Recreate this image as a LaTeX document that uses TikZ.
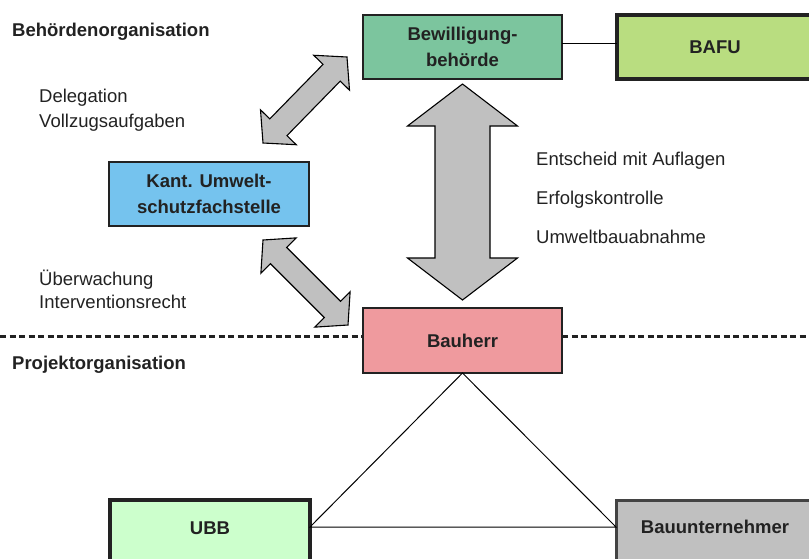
\documentclass[tikz,border=0pt]{standalone}
\usepackage{fontspec}
\setmainfont{Liberation Sans}
\usetikzlibrary{calc}

\definecolor{bewgreen}{HTML}{7CC59E}
\definecolor{bafugreen}{HTML}{B9DD80}
\definecolor{kantblue}{HTML}{75C3EE}
\definecolor{bauherrpink}{HTML}{EF9A9E}
\definecolor{ubbgreen}{HTML}{CCFFCC}
\definecolor{bugray}{HTML}{C0C0C0}
\definecolor{arrowgray}{HTML}{C0C0C0}
\definecolor{ink}{HTML}{222222}

\tikzset{
  orgbox/.style={draw=ink, line width=1.2pt, minimum width=199pt, minimum height=64pt,
    inner sep=0pt, outer sep=0pt, align=center,
    font=\fontsize{18.5}{25.5}\selectfont\bfseries, text=ink},
  heavybox/.style={orgbox, line width=4pt},
  boxlabel/.style={font=\fontsize{18.5}{25.5}\selectfont\bfseries, text=ink, inner sep=0pt},
  heading/.style={boxlabel, anchor=base west},
  note/.style={font=\fontsize{18.5}{23}\selectfont, text=ink, inner sep=0pt, anchor=base west},
  bigarrow/.style={draw=black, line width=1.1pt, fill=arrowgray, line join=miter},
  divider/.style={draw=ink, line width=3pt, dash pattern=on 6pt off 3.5pt},
  link/.style={draw=black, line width=1pt},
}

% block double arrow from #1 to #2: shaft half width #3, head half width #4, head length #5
\newcommand\orgarrow[5]{%
  \draw[bigarrow] (#1)
    -- ($(#1)!#5!(#2)!#4!90:(#2)$)
    -- ($(#1)!#5!(#2)!#3!90:(#2)$)
    -- ($(#2)!#5!(#1)!#3!-90:(#1)$)
    -- ($(#2)!#5!(#1)!#4!-90:(#1)$)
    -- (#2)
    -- ($(#2)!#5!(#1)!#4!90:(#1)$)
    -- ($(#2)!#5!(#1)!#3!90:(#1)$)
    -- ($(#1)!#5!(#2)!#3!-90:(#2)$)
    -- ($(#1)!#5!(#2)!#4!-90:(#2)$)
    -- cycle;}

\begin{document}
\begin{tikzpicture}[x=1pt,y=-1pt]
\useasboundingbox (0,0) rectangle (809,558);

% lower organisation boxes (they run past the page edge)
\node[heavybox, fill=ubbgreen, anchor=north west, minimum width=200pt, minimum height=80pt] (ubb) at (110,500) {};
\node[orgbox, line width=3pt, draw=ink!85, fill=bugray, anchor=north west, minimum width=198pt, minimum height=80pt] (bu) at (616,500) {};

% triangle linking Bauherr, UBB and Bauunternehmer
\coordinate (tri) at (462,527);
\node[orgbox, fill=bauherrpink, minimum height=65pt] (bauherr) at (462.5,340.5) {Bauherr};
\draw[link] (bauherr.south) -- (tri -| ubb.east) -- (tri -| bu.west) -- cycle;

\node[boxlabel] (ubbtext) at ([yshift=-28pt]ubb.north) {UBB};
\node[boxlabel] (butext) at ([yshift=-27pt]bu.north) {Bauunternehmer};

% authority boxes
\node[orgbox, fill=bewgreen] (bew) at (462.5,47) {Bewilligung-\\behörde};
\node[heavybox, fill=bafugreen, anchor=north west, minimum width=196pt] (bafu) at (617,15) {BAFU};
\node[orgbox, fill=kantblue, minimum width=200pt] (kant) at (209,194) {Kant. Umwelt-\\schutzfachstelle};
\draw[link] ([yshift=4pt]bew.east) -- ([yshift=4pt]bafu.west);

% divider between authority and project organisation
\coordinate (dl) at (0,336);
\coordinate (dr) at (809,336);
\draw[divider] (dl) -- (dl -| bauherr.west);
\draw[divider] (dr -| bauherr.east) -- (dr);

% block arrows
\coordinate (dA1) at (263,143);
\coordinate (dB1) at (347,57);
\orgarrow{dA1}{dB1}{12pt}{25pt}{22pt}
\coordinate (dA2) at (263,240);
\coordinate (dB2) at (348,325);
\orgarrow{dA2}{dB2}{11.5pt}{25pt}{22pt}
\coordinate (vA) at ([yshift=-5pt]bew.south);
\coordinate (vB) at ([yshift=8pt]bauherr.north);
\orgarrow{vA}{vB}{27.5pt}{55pt}{42pt}

% headings and notes
\node[heading] (hb) at (12,36) {Behördenorganisation};
\node[heading] (hp) at (12,369) {Projektorganisation};
\node[note] (n1) at (39,102) {Delegation};
\node[note] (n2) at (39,127) {Vollzugsaufgaben};
\node[note] (n3) at (39,285) {Überwachung};
\node[note] (n4) at (39,308) {Interventionsrecht};
\node[note] (n5) at (536,165) {Entscheid mit Auflagen};
\node[note] (n6) at (536,204) {Erfolgskontrolle};
\node[note] (n7) at (536,243) {Umweltbauabnahme};
\end{tikzpicture}
\end{document}
